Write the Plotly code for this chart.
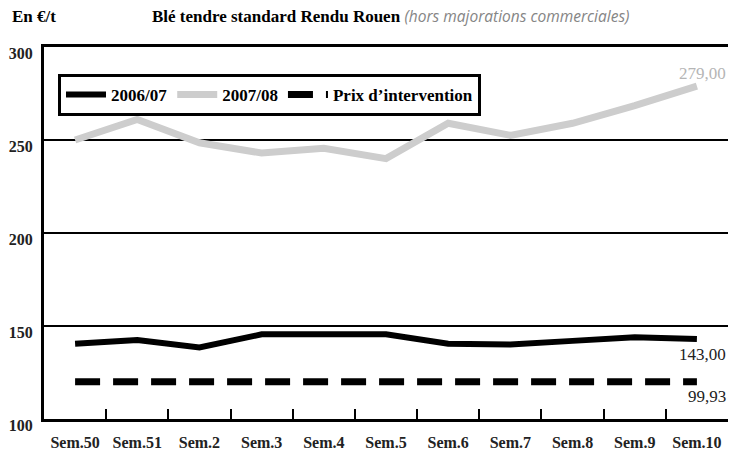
import plotly.graph_objects as go

weeks = ["Sem.50", "Sem.51", "Sem.2", "Sem.3", "Sem.4", "Sem.5",
         "Sem.6", "Sem.7", "Sem.8", "Sem.9", "Sem.10"]
prix_2006_07 = [140.5, 142.5, 138.5, 145.5, 145.5, 145.5, 140.5, 140, 142, 144, 143]
prix_2007_08 = [250, 261, 248.5, 243, 245.5, 240, 259, 252.5, 259, 268.5, 279]
prix_intervention = [120] * 11

label_0607 = "143,00"
label_0708 = "279,00"
label_interv = "99,93"

SERIF = "Liberation Serif"

fig = go.Figure()
fig.add_trace(go.Scatter(x=weeks, y=prix_2006_07, mode="lines", name="2006/07",
                         line=dict(color="black", width=6)))
fig.add_trace(go.Scatter(x=weeks, y=prix_2007_08, mode="lines", name="2007/08",
                         line=dict(color="#cdcdcd", width=7)))
fig.add_trace(go.Scatter(x=weeks, y=prix_intervention, mode="lines", name="Prix d\u2019intervention",
                         line=dict(color="black", width=7, dash="25px,13px")))

end_font = dict(family=SERIF, size=17, color="#222222")
fig.add_annotation(x=weeks[-1], y=prix_2007_08[-1], text=label_0708, showarrow=False,
                   xanchor="right", xshift=31, yshift=13,
                   font=dict(family=SERIF, size=17, color="#b5b5b5"))
fig.add_annotation(x=weeks[-1], y=prix_2006_07[-1], text=label_0607, showarrow=False,
                   xanchor="right", xshift=31, yshift=-15, font=end_font)
fig.add_annotation(x=weeks[-1], y=prix_intervention[-1], text=label_interv, showarrow=False,
                   xanchor="right", xshift=31, yshift=-15, font=end_font)

# header texts
fig.add_annotation(xref="paper", yref="paper", x=(10 - 44) / 684, y=(419 - 16) / 372,
                   xanchor="left", yanchor="middle", showarrow=False,
                   text="En \u20ac/t", font=dict(family=SERIF, size=17, color="black", weight="bold"))
fig.add_annotation(xref="paper", yref="paper", x=(150 - 44) / 684, y=(419 - 16) / 372,
                   xanchor="left", yanchor="middle", showarrow=False,
                   text="<b>Bl\u00e9 tendre standard Rendu Rouen</b> "
                        "<span style='font-family:Open Sans;font-size:15.5px;color:#858585'>"
                        "<i>(hors majorations commerciales)</i></span>",
                   font=dict(family=SERIF, size=17, color="black"))

fig.update_layout(
    width=747, height=459,
    margin=dict(l=44, r=19, t=47, b=40),
    paper_bgcolor="white", plot_bgcolor="white",
    showlegend=True,
    legend=dict(orientation="h", x=(58 - 44) / 684, y=(419 - 74) / 372,
                xanchor="left", yanchor="top", itemwidth=40,
                bordercolor="black", borderwidth=3, bgcolor="white",
                font=dict(family=SERIF, size=17, color="black", weight="bold")),
    xaxis=dict(type="category", range=[-0.5, 10.5], showline=True, linecolor="black",
               linewidth=3, mirror=True, showgrid=False, tickson="boundaries",
               ticks="inside", ticklen=10, tickwidth=2, tickcolor="black",
               ticklabelstandoff=7,
               tickfont=dict(family=SERIF, size=16, color="#222222", weight="bold"),
               automargin=False, fixedrange=True),
    yaxis=dict(range=[100, 300], tickvals=[100, 150, 200, 250, 300], showline=True,
               linecolor="black", linewidth=3, showgrid=True, gridcolor="black",
               gridwidth=2, zeroline=False, ticks="", ticklabelstandoff=5,
               ticklabelshift=6,
               tickfont=dict(family=SERIF, size=16, color="#222222", weight="bold"),
               automargin=False, fixedrange=True),
)

fig.write_html("out.html", config={"displayModeBar": False},
               post_script="document.body.style.margin='0';document.body.style.overflow='hidden';")
